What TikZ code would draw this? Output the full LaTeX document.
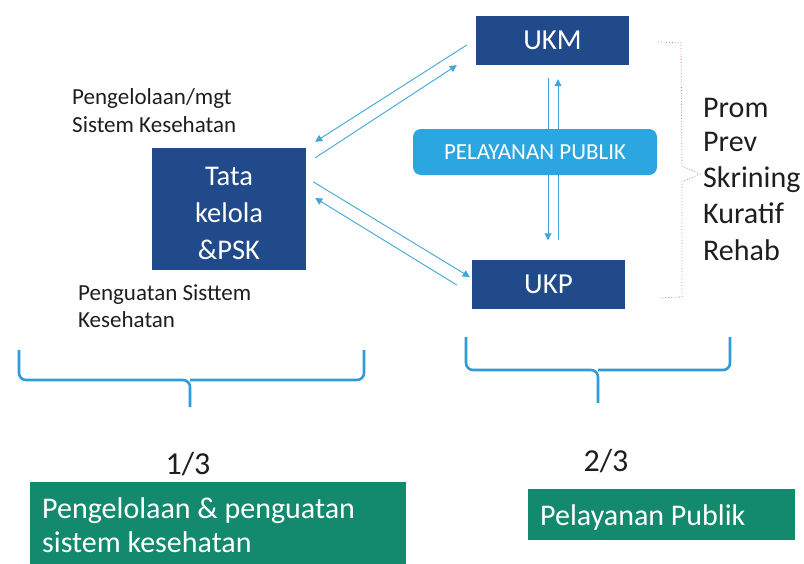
\documentclass[tikz,border=0pt]{standalone}
\usepackage{fontspec}
\setmainfont{Carlito}
\usetikzlibrary{arrows.meta,calc}
\definecolor{dblue}{RGB}{32,74,137}
\definecolor{lblue}{RGB}{65,165,220}
\definecolor{pblue}{RGB}{44,166,224}
\definecolor{bblue}{RGB}{47,155,219}
\definecolor{dgreen}{RGB}{19,138,110}
\definecolor{pinkr}{RGB}{224,115,143}
\definecolor{txt}{RGB}{30,30,30}
\tikzset{
  darkbox/.style={fill=dblue, draw=none, text=white, inner sep=0pt},
  conn/.style={draw=lblue, line width=0.9pt, -{Triangle[width=7pt,length=7pt]}},
  brace/.style={draw=bblue, line width=2.6pt, rounded corners=7pt},
  greenbox/.style={fill=dgreen, draw=none, inner sep=0pt},
  gtext/.style={text=white, anchor=base west, inner sep=0pt, font=\fontsize{30}{34}\selectfont},
  lbl/.style={text=txt, anchor=base west, inner sep=0pt, font=\fontsize{23}{27}\selectfont},
  rlbl/.style={text=txt, anchor=base west, inner sep=0pt, font=\fontsize{30}{34}\selectfont},
}
\begin{document}
\begin{tikzpicture}[x=1pt,y=-1pt]
\useasboundingbox (0,0) rectangle (804,563);
% main boxes
\node[darkbox, minimum width=154, minimum height=122] (tata) at (229,209) {};
\node[text=white, inner sep=0pt, align=center,
      font=\fontsize{28.5}{37}\selectfont] (tatatxt) at (229,213) {Tata\\kelola\\\&PSK};
\node[darkbox, minimum width=153, minimum height=49, font=\fontsize{29}{32}\selectfont] (ukm) at (552.5,40.5) {UKM};
\node[darkbox, minimum width=153, minimum height=49, font=\fontsize{29}{32}\selectfont] (ukp) at (548.5,284) {UKP};
% arrows
\draw[conn] ($(ukm.west)+(-9,4.5)$) -- ($(tata.north east)+(9,-6)$);
\draw[conn] ($(tata.north east)+(9,10)$) -- ($(ukm.south west)+(-19,0)$);
\draw[conn] ($(tata.north east)+(7,34)$) -- ($(ukp.west)+(-2,-7)$);
\draw[conn] ($(ukp.west)+(-15,1)$) -- ($(tata.east)+(9,-11)$);
\draw[conn] ($(ukm.south)+(-4.5,13)$) -- ($(ukp.north)+(-0.5,-19)$);
\draw[conn] ($(ukp.north)+(9.5,-19)$) -- ($(ukm.south)+(5.5,14)$);
% pelayanan publik
\node[fill=pblue, draw=none, rounded corners=8pt, minimum width=244, minimum height=46,
      text=white, inner sep=0pt, font=\fontsize{23}{26}\selectfont] (pp) at (535,152) {PELAYANAN PUBLIK};
% left labels
\node[lbl] (l1) at (72,104) {Pengelolaan/mgt};
\node[lbl] (l2) at (72,132) {Sistem Kesehatan};
\node[lbl] (l3) at (78,300) {Penguatan Sisttem};
\node[lbl] (l4) at (78,327) {Kesehatan};
% pink dotted bracket
\coordinate (bt) at (658,42);
\coordinate (bb) at (658,298);
\coordinate (bm) at (700,174);
\draw[pinkr, line width=0.8pt, dotted] (bt) -- (681,43) -- (682,166) -- (bm) -- (682,182) -- (682,297) -- (bb);
% right list
\node[rlbl] (r1) at (703,117) {Prom};
\node[rlbl] (r2) at (703,151) {Prev};
\node[rlbl] (r3) at (703,187) {Skrining};
\node[rlbl] (r4) at (703,223) {Kuratif};
\node[rlbl] (r5) at (703,260) {Rehab};
% bottom braces
\coordinate (lbt) at (190,407);
\coordinate (rbt) at (598,403);
\draw[brace] (19,350) -- (19,380) -- (190,380) -- (lbt);
\draw[brace] (364,350) -- (364,380) -- (190,380);
\draw[brace] (466,337) -- (466,370) -- (598,370) -- (rbt);
\draw[brace] (730,337) -- (730,370) -- (598,370);
% fractions
\node[rlbl, anchor=base, font=\fontsize{32}{36}\selectfont] (f1) at (188,474) {1/3};
\node[rlbl, anchor=base, font=\fontsize{32}{36}\selectfont] (f2) at (606,471) {2/3};
% green boxes
\node[greenbox, anchor=north west, minimum width=376, minimum height=95] (g1) at (30,482) {};
\node[gtext] (g1a) at (42,518) {Pengelolaan \& penguatan};
\node[gtext] (g1b) at (42,552) {sistem kesehatan};
\node[greenbox, anchor=north west, minimum width=267, minimum height=51] (g2) at (528,489) {};
\node[gtext] (g2a) at (540,525) {Pelayanan Publik};
\end{tikzpicture}
\end{document}
